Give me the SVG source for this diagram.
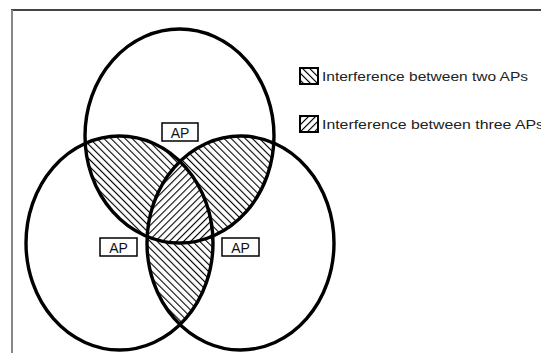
<svg xmlns="http://www.w3.org/2000/svg" width="541" height="353" viewBox="0 0 541 353">
  <style>
    .ring { fill: none; stroke: #000; stroke-width: 3.4; }
    .tag rect { fill: #fff; stroke: #000; stroke-width: 1.5; }
    .tag text { font-family: "Liberation Sans", Arial, sans-serif; font-size: 14px; fill: #111; text-anchor: middle; }
    .key rect { stroke: #000; stroke-width: 2; }
    .key text { font-family: "Liberation Sans", Arial, sans-serif; font-size: 12px; fill: #222; }
  </style>
  <defs>
    <!-- back-slash hatch: overlap of two coverage areas -->
    <pattern id="hatchTwo" patternUnits="userSpaceOnUse" width="5" height="5" patternTransform="rotate(-45)">
      <rect width="5" height="5" fill="#fff"/>
      <line x1="0" y1="0" x2="0" y2="5" stroke="#000" stroke-width="2.2"/>
    </pattern>
    <!-- forward-slash hatch: overlap of all three coverage areas -->
    <pattern id="hatchThree" patternUnits="userSpaceOnUse" width="5" height="5" patternTransform="rotate(45)">
      <rect width="5" height="5" fill="#fff"/>
      <line x1="0" y1="0" x2="0" y2="5" stroke="#000" stroke-width="2.2"/>
    </pattern>
    <clipPath id="cTop"><ellipse cx="179.5" cy="136" rx="94.5" ry="107"/></clipPath>
    <clipPath id="cLeft"><ellipse cx="119.5" cy="243" rx="93.5" ry="107"/></clipPath>
    <clipPath id="cRight"><ellipse cx="240.5" cy="243" rx="93.5" ry="107"/></clipPath>
  </defs>

  <rect width="541" height="353" fill="#fff"/>

  <!-- frame -->
  <g id="frame">
    <line x1="11" y1="10" x2="541" y2="10" stroke="#444" stroke-width="2"/>
    <line x1="12" y1="10" x2="12" y2="353" stroke="#888" stroke-width="2"/>
  </g>

  <!-- overlap shading -->
  <g id="overlaps">
    <g clip-path="url(#cTop)"><rect x="0" y="0" width="541" height="353" fill="url(#hatchTwo)" clip-path="url(#cLeft)"/></g>
    <g clip-path="url(#cTop)"><rect x="0" y="0" width="541" height="353" fill="url(#hatchTwo)" clip-path="url(#cRight)"/></g>
    <g clip-path="url(#cLeft)"><rect x="0" y="0" width="541" height="353" fill="url(#hatchTwo)" clip-path="url(#cRight)"/></g>
    <g clip-path="url(#cTop)"><g clip-path="url(#cLeft)"><rect x="0" y="0" width="541" height="353" fill="url(#hatchThree)" clip-path="url(#cRight)"/></g></g>
  </g>

  <!-- coverage areas -->
  <g id="ap-top">
    <ellipse class="ring" cx="179.5" cy="136" rx="94.5" ry="107"/>
    <g class="tag"><rect x="162" y="123" width="36" height="18"/><text x="180" y="137.5">AP</text></g>
  </g>
  <g id="ap-left">
    <ellipse class="ring" cx="119.5" cy="243" rx="93.5" ry="107"/>
    <g class="tag"><rect x="100" y="238" width="37" height="18"/><text x="118.5" y="252.5">AP</text></g>
  </g>
  <g id="ap-right">
    <ellipse class="ring" cx="240.5" cy="243" rx="93.5" ry="107"/>
    <g class="tag"><rect x="222" y="238" width="37" height="18"/><text x="240.5" y="252.5">AP</text></g>
  </g>

  <!-- legend -->
  <g id="legend-two" class="key">
    <rect x="300" y="68" width="18" height="16" fill="url(#hatchTwo)"/>
    <text x="322" y="80.5" textLength="206" lengthAdjust="spacingAndGlyphs">Interference between two APs</text>
  </g>
  <g id="legend-three" class="key">
    <rect x="300" y="116" width="18" height="16" fill="url(#hatchThree)"/>
    <text x="322" y="128.5" textLength="222" lengthAdjust="spacingAndGlyphs">Interference between three APs</text>
  </g>
</svg>
